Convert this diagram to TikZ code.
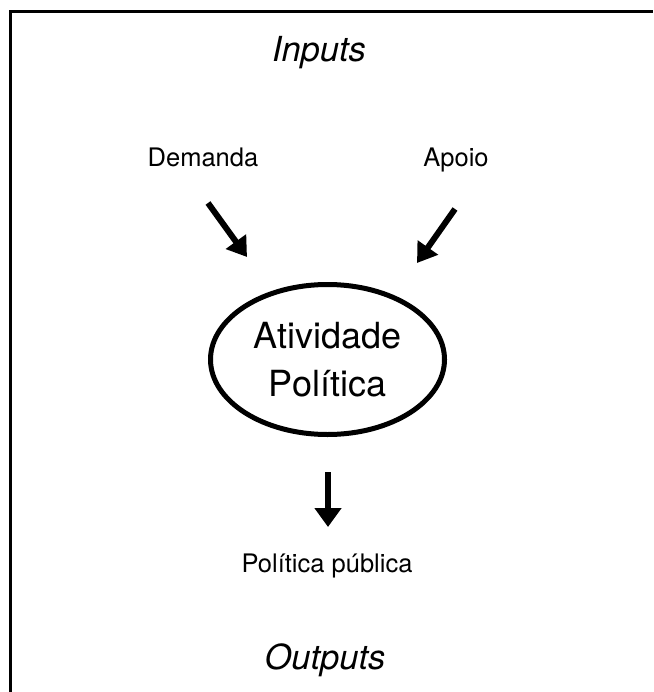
\documentclass[tikz,border=0pt]{standalone}
\usepackage{fontspec}
\setmainfont{TeX Gyre Heros}
\usetikzlibrary{arrows.meta,shapes.geometric}

\begin{document}
\begin{tikzpicture}[x=1pt, y=-1pt,
  label text/.style={anchor=base, inner sep=0pt, font=\fontsize{25.5}{30}\selectfont},
  title text/.style={anchor=base, inner sep=0pt, font=\fontsize{34.5}{40}\selectfont\itshape},
  seta/.style={line width=6pt, -{Triangle[width=24pt, length=19pt]}}]
  % Define parameters
  \def\W{653} % Width of the picture
  \def\H{692} % Height of the picture

  % Fix the page size
  \useasboundingbox (0, 0) rectangle (\W, \H);

  % Draw the frame
  \draw[line width=3pt] (10.5, \H) -- (10.5, 12) -- (\W, 12);

  % Add inputs and outputs titles
  \node[title text] (inputs) at (319, 62) {Inputs};
  \node[title text] (outputs) at (325, 669) {Outputs};

  % Add input labels
  \node[label text] (demanda) at (203, 167) {Demanda};
  \node[label text] (apoio) at (456, 167) {Apoio};

  % Draw the political activity
  \node[ellipse, draw, line width=5pt, minimum width=234pt, minimum height=150pt,
        inner sep=0pt, align=center, font=\fontsize{36}{48}\selectfont]
        (atividade) at (327.5, 359.5) {Atividade\\Política};

  % Add output label
  \node[label text] (politica) at (327, 572) {Política pública};

  % Arrow end points
  \coordinate (demIn) at (208, 203);
  \coordinate (demOut) at (247, 257);
  \coordinate (apoIn) at (455, 209);
  \coordinate (apoOut) at (417, 263);
  \coordinate (polIn) at (328, 472);
  \coordinate (polOut) at (328, 527);

  % Draw the arrows
  \draw[seta] (demIn) -- (demOut);
  \draw[seta] (apoIn) -- (apoOut);
  \draw[seta, -{Triangle[width=26pt, length=19pt]}] (polIn) -- (polOut);

\end{tikzpicture}
\end{document}
